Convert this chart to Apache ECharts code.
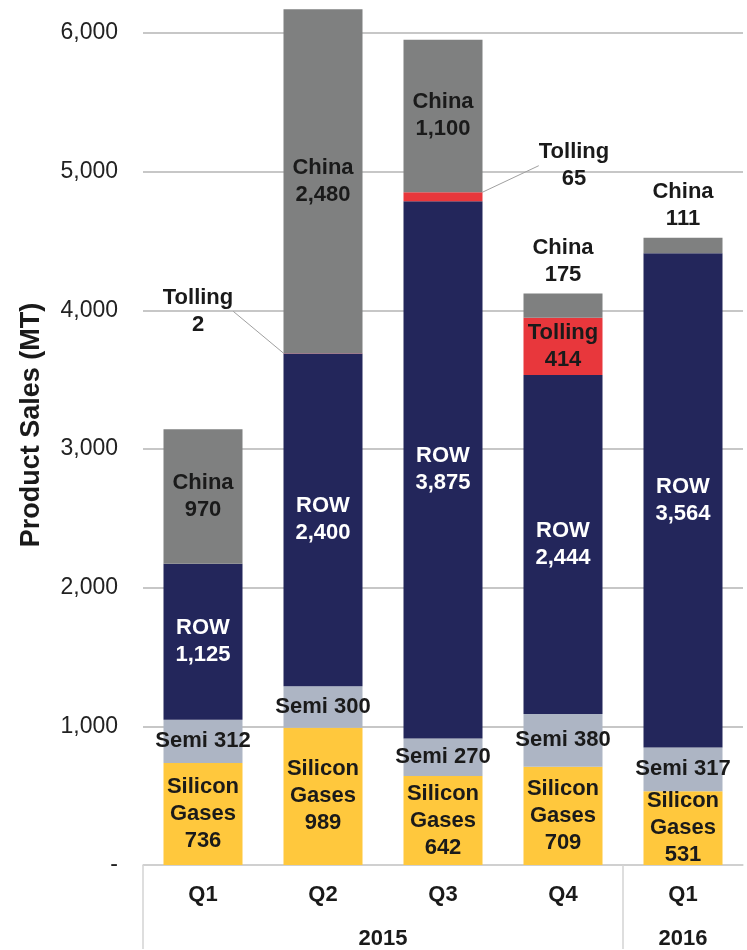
<!DOCTYPE html>
<html>
<head>
<meta charset="utf-8">
<title>Product Sales (MT)</title>
<script src="https://cdn.jsdelivr.net/npm/echarts@6/dist/echarts.min.js"></script>
<style>
  html, body { margin: 0; padding: 0; background: #ffffff; }
  #chart { width: 747px; height: 950px; }
</style>
</head>
<body>
<div id="chart"></div>
<script>
// Quarterly product sales (metric tons), stacked by segment
const quarters = ['Q1', 'Q2', 'Q3', 'Q4', 'Q1'];
const years = ['2015', '2016'];
const siliconGases = [736, 989, 642, 709, 531];
const semi = [312, 300, 270, 380, 317];
const row = [1125, 2400, 3875, 2444, 3564];
const tolling = [0, 2, 65, 414, 0];
const china = [970, 2480, 1100, 175, 111];
const yTicks = [0, 1000, 2000, 3000, 4000, 5000, 6000];

// year groups: quarters 0-3 belong to 2015, quarter 4 to 2016
const yearStart = [0, 4];
const yearEnd = [4, 5];

const FONT = '"Liberation Sans", Arial, Helvetica, sans-serif';
const fmt = v => v.toLocaleString('en-US');

const chart = echarts.init(document.getElementById('chart'), null, { renderer: 'canvas' });

const baseLabel = {
  show: true,
  position: 'inside',
  fontFamily: FONT,
  fontWeight: 'bold',
  fontSize: 22,
  lineHeight: 27,
  color: '#1a1a1a'
};

// small segments carry their label above the bar top
const chinaData = china.map(v => v < 300
  ? { value: v, label: { position: 'top', distance: 5 } }
  : v);

// tiny tolling slivers get a label moved off to the side with a guide line
const tollingOffsets = { 1: { dx: -125, dy: -42 }, 2: { dx: 131, dy: -31 } };

const yearCenters = yearStart.map((s, i) => (s + yearEnd[i]) / 2);

const option = {
  backgroundColor: '#ffffff',
  animation: false,
  grid: { left: 143, right: 4, top: 33, bottom: 84, containLabel: false },
  xAxis: [
    {
      type: 'category',
      data: quarters,
      axisLine: { show: true, lineStyle: { color: '#d4d4d4', width: 1.5 } },
      axisTick: { show: false },
      axisLabel: {
        fontFamily: FONT, fontWeight: 'bold', fontSize: 22, color: '#1a1a1a', margin: 19
      },
      splitLine: { show: false }
    },
    {
      // year row underneath the quarter labels
      type: 'value',
      position: 'bottom',
      offset: 45,
      min: 0,
      max: 5,
      axisLine: { show: false },
      axisTick: { show: false },
      splitLine: { show: false },
      axisLabel: {
        customValues: yearCenters,
        fontFamily: FONT, fontWeight: 'bold', fontSize: 22, color: '#1a1a1a', margin: 18,
        formatter: v => {
          const i = yearCenters.findIndex(c => Math.abs(c - v) < 1e-6);
          return i >= 0 ? years[i] : '';
        }
      }
    },
    {
      // group separators of the category table
      type: 'value',
      position: 'bottom',
      offset: 0,
      min: 0,
      max: 5,
      axisLine: { show: false },
      axisLabel: { show: false },
      splitLine: { show: false },
      axisTick: {
        show: true,
        customValues: yearStart,
        length: 84,
        lineStyle: { color: '#d4d4d4', width: 1.5 }
      }
    }
  ],
  yAxis: {
    type: 'value',
    min: yTicks[0],
    max: yTicks[yTicks.length - 1],
    interval: 1000,
    name: 'Product Sales (MT)',
    nameLocation: 'middle',
    nameRotate: 90,
    nameGap: 98,
    nameTextStyle: {
      fontFamily: FONT, fontWeight: 'bold', fontSize: 27, color: '#1a1a1a',
      padding: [0, 0, 0, 48]
    },
    axisLine: { show: false },
    axisTick: { show: false },
    axisLabel: {
      fontFamily: FONT, fontSize: 23, color: '#222222', margin: 25,
      formatter: v => (v === 0 ? '-' : fmt(v))
    },
    splitLine: { show: true, lineStyle: { color: '#b4b4b4', width: 1.5 } }
  },
  series: [
    {
      name: 'Silicon Gases', type: 'bar', stack: 'sales', barWidth: 79, clip: false,
      data: siliconGases,
      itemStyle: { color: '#ffc83d' },
      label: Object.assign({}, baseLabel, { formatter: p => 'Silicon\nGases\n' + fmt(p.value) })
    },
    {
      name: 'Semi', type: 'bar', stack: 'sales', barWidth: 79, clip: false,
      data: semi,
      itemStyle: { color: '#adb5c4' },
      label: Object.assign({}, baseLabel, { formatter: p => 'Semi ' + fmt(p.value) })
    },
    {
      name: 'ROW', type: 'bar', stack: 'sales', barWidth: 79, clip: false,
      data: row,
      itemStyle: { color: '#23265b' },
      label: Object.assign({}, baseLabel, { color: '#ffffff', formatter: p => 'ROW\n' + fmt(p.value) })
    },
    {
      name: 'Tolling', type: 'bar', stack: 'sales', barWidth: 79, clip: false,
      data: tolling,
      itemStyle: { color: '#e8373c' },
      label: Object.assign({}, baseLabel, {
        formatter: p => (p.value ? 'Tolling\n' + fmt(p.value) : '')
      }),
      labelLine: { show: true, lineStyle: { color: '#a0a0a0', width: 1 } },
      labelLayout: p => tollingOffsets[p.dataIndex] || {}
    },
    {
      name: 'China', type: 'bar', stack: 'sales', barWidth: 79, clip: false,
      data: chinaData,
      itemStyle: { color: '#7f8080' },
      label: Object.assign({}, baseLabel, { formatter: p => 'China\n' + fmt(p.value) })
    }
  ]
};

chart.setOption(option);
</script>
</body>
</html>
